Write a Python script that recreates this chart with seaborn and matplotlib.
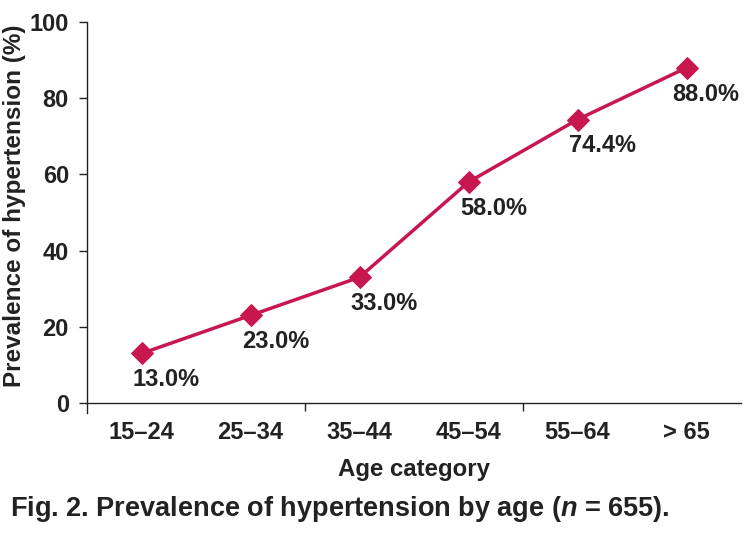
import numpy as np
import pandas as pd
from matplotlib import pyplot as plt
import seaborn as sns

age_groups = ["15\u201324", "25\u201334", "35\u201344", "45\u201354", "55\u201364", "> 65"]
prevalence = [13.0, 23.0, 33.0, 58.0, 74.4, 88.0]
value_labels = ["13.0%", "23.0%", "33.0%", "58.0%", "74.4%", "88.0%"]
y_ticks = [0, 20, 40, 60, 80, 100]

sns.set_style("ticks")
plt.rcParams['font.family'] = ['Liberation Sans', 'DejaVu Sans']
plt.rcParams['font.weight'] = 'bold'
plt.rcParams['mathtext.fontset'] = 'custom'
plt.rcParams['mathtext.rm'] = 'Liberation Sans:bold'
plt.rcParams['mathtext.bfit'] = 'Liberation Sans:italic:bold'
plt.rcParams['mathtext.it'] = 'Liberation Sans:italic:bold'

line_color = "#C8174F"
text_color = "#222222"

df = pd.DataFrame({"age": age_groups, "prev": prevalence})

fig = plt.figure(figsize=(7.54, 5.37), dpi=100)
ax = fig.add_axes([0.1154, 0.2318, 0.8674, 0.7272])

sns.lineplot(data=df, x="age", y="prev", sort=False, ax=ax, color=line_color,
             linewidth=2.5, marker="D", markersize=11, markeredgecolor=line_color)

# value labels below-right of each point (last one pulled in a bit)
for i, (v, lab) in enumerate(zip(prevalence, value_labels)):
    dx = 14 if i == len(prevalence) - 1 else 18
    ax.annotate(lab, (i, v), xytext=(dx, -19), textcoords="offset points",
                ha="center", va="center", fontsize=17, fontweight="bold", color=text_color)

ax.set_xlim(-0.5, 5.5)
ax.set_ylim(-2.5, 100)
ax.spines['top'].set_visible(False)
ax.spines['right'].set_visible(False)
ax.spines['bottom'].set_position(('data', 0))
ax.spines['left'].set_bounds(-2.5, 100)
for s in ['left', 'bottom']:
    ax.spines[s].set_linewidth(1.0)
    ax.spines[s].set_color(text_color)

ax.set_yticks(y_ticks)
ax.set_yticklabels([str(t) for t in y_ticks], fontsize=17, fontweight="bold", color=text_color)
ax.tick_params(axis='y', length=6, width=1.0, color=text_color, pad=7)

ax.set_xticks([1.5, 3.5])
ax.set_xticklabels(["", ""])
ax.set_xticks(range(len(age_groups)), minor=True)
ax.set_xticklabels(age_groups, minor=True, fontsize=17, fontweight="bold", color=text_color)
ax.tick_params(axis='x', which='major', length=6, width=1.0, color=text_color)
ax.tick_params(axis='x', which='minor', length=0, pad=13)

ax.set_xlabel("Age category", fontsize=17.3, fontweight="bold", color=text_color, labelpad=10)
ax.set_ylabel("Prevalence of hypertension (%)", fontsize=17.5, fontweight="bold", color=text_color)
ax.yaxis.set_label_coords(-0.093, 0.53)

fig.text(0.013, 0.053, r"Fig. 2. Prevalence of hypertension by age ($\mathbfit{n}$ = 655).",
         fontsize=19.5, fontweight="bold", color=text_color, va="center", ha="left")

fig.savefig("out.png", dpi=100)
